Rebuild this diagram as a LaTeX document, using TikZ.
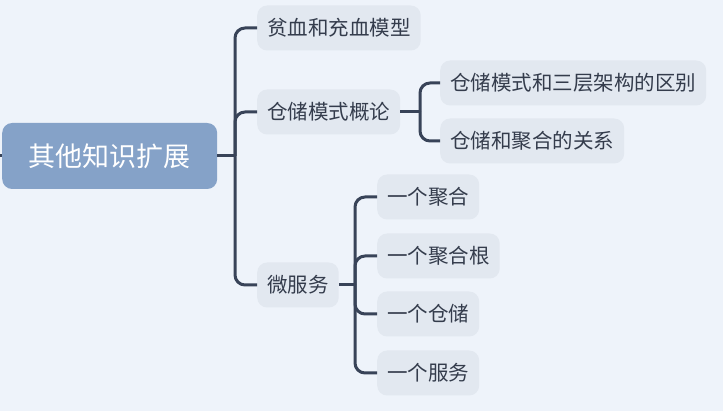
\documentclass[tikz,border=0pt]{standalone}
\usepackage{fontspec}
\newfontfamily\cjk{Noto Sans CJK SC}
\definecolor{bgblue}{RGB}{238,243,250}
\definecolor{rootfill}{RGB}{133,162,200}
\definecolor{topicfill}{RGB}{226,232,240}
\definecolor{topictext}{RGB}{52,60,76}
\definecolor{linecol}{RGB}{56,67,88}
\tikzset{
  rootbox/.style={rounded corners=10pt, fill=rootfill, text=white, anchor=west,
    inner xsep=26.5pt, minimum height=66pt, font=\cjk\fontsize{27}{30}\selectfont},
  topic/.style={rounded corners=10pt, fill=topicfill, text=topictext, anchor=west,
    inner xsep=10pt, minimum height=45pt, font=\cjk\fontsize{20.5}{24}\selectfont},
  branch/.style={draw=linecol, line width=3pt, rounded corners=10pt}
}
\begin{document}
\begin{tikzpicture}[x=1pt,y=-1pt]
  \fill[bgblue] (0,0) rectangle (723,411);
  \useasboundingbox (0,0) rectangle (723,411);
  \node[rootbox] (root) at (2,156) {其他知识扩展};
  \node[topic] (anemia) at (257,28)  {贫血和充血模型};
  \node[topic] (repo)   at (257,112) {仓储模式概论};
  \node[topic] (micro)  at (257,285) {微服务};
  \node[topic] (layer)  at (440,83)  {仓储模式和三层架构的区别};
  \node[topic] (aggrel) at (440,141) {仓储和聚合的关系};
  \node[topic] (agg)    at (377,197) {一个聚合};
  \node[topic] (aggroot) at (377,256) {一个聚合根};
  \node[topic] (onerepo) at (377,314) {一个仓储};
  \node[topic] (service) at (377,373) {一个服务};
  % junctions
  \coordinate (parent) at (0,156);
  \coordinate (j1) at (235,156);
  \coordinate (j2) at (420,112);
  \coordinate (j3) at (355,285);
  \draw[branch] (parent) -- (root.west);
  \draw[branch] (root.east) -- (j1);
  \foreach \c in {anemia,repo,micro}
    \draw[branch] (j1) |- (\c.west);
  \draw[branch] (repo.east) -- (j2);
  \foreach \c in {layer,aggrel}
    \draw[branch] (j2) |- (\c.west);
  \draw[branch] (micro.east) -- (j3);
  \foreach \c in {agg,aggroot,onerepo,service}
    \draw[branch] (j3) |- (\c.west);
\end{tikzpicture}
\end{document}
